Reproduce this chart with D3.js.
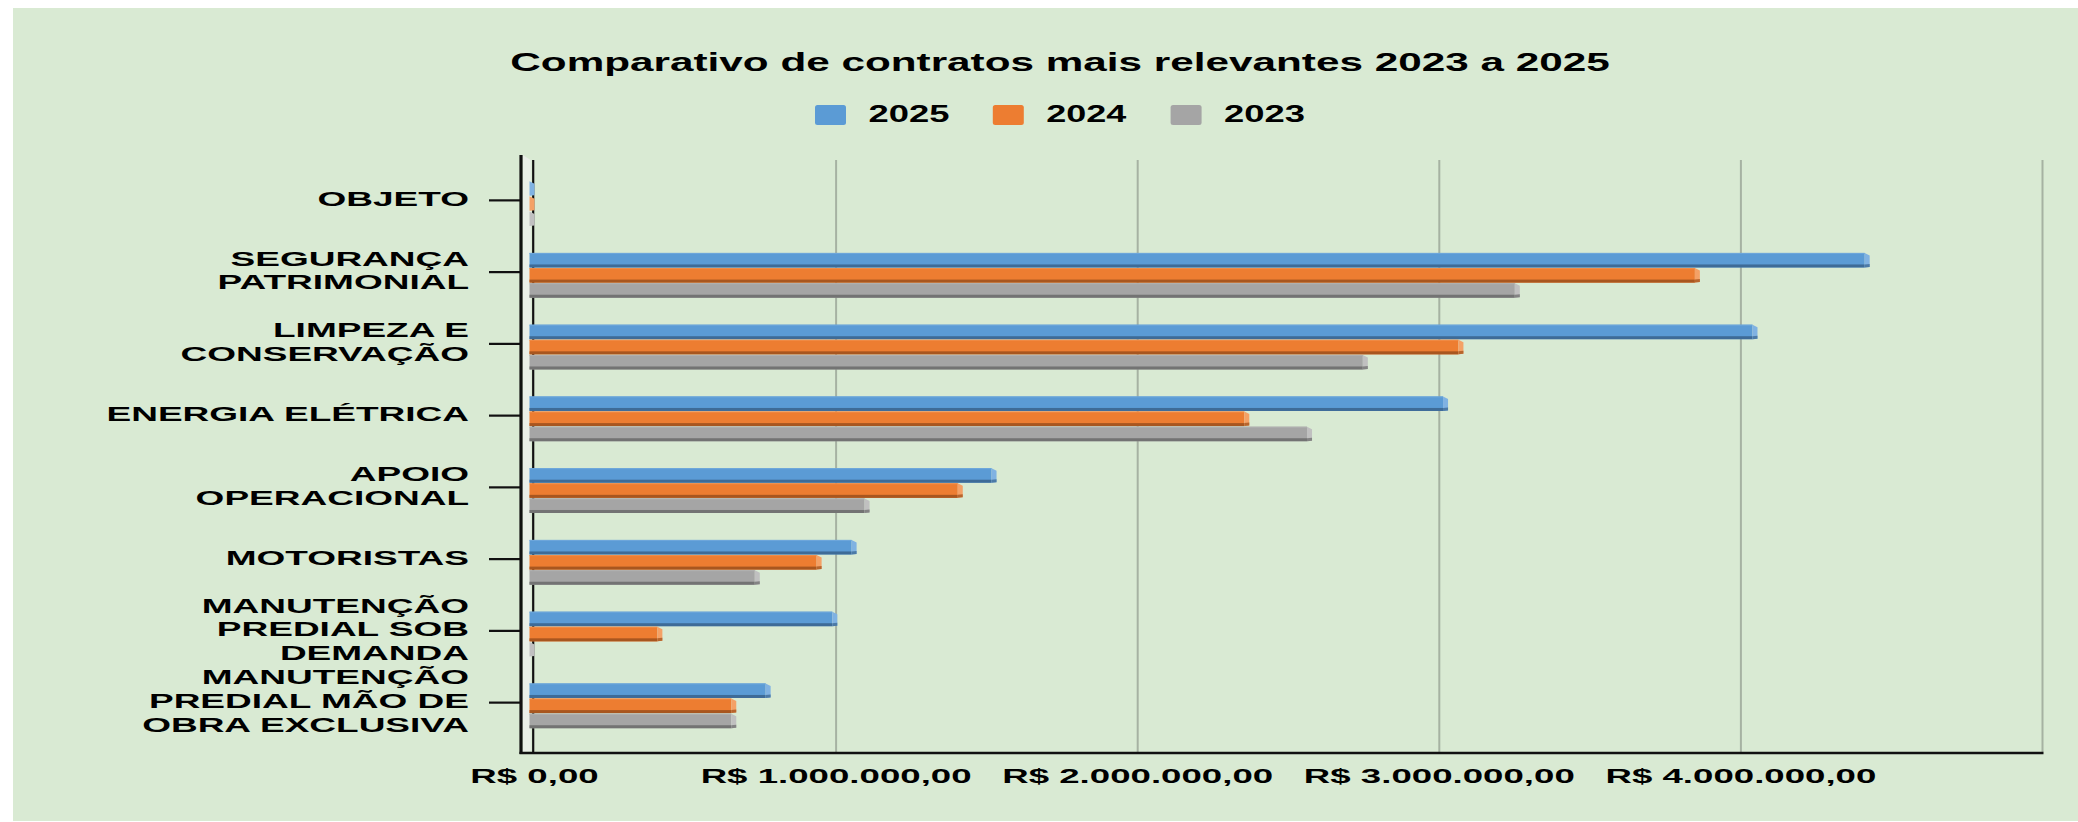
<!DOCTYPE html>
<html>
<head>
<meta charset="utf-8">
<script src="https://cdn.jsdelivr.net/npm/d3@7"></script>
<style>
  html, body { margin: 0; padding: 0; background: #ffffff; }
  svg text { font-family: "Liberation Sans", Arial, sans-serif; font-weight: bold; fill: #000; }
</style>
</head>
<body>
<svg id="chart" width="2078" height="822"></svg>
<script>
// ---------------- DATA ----------------
const chartTitle = "Comparativo de contratos mais relevantes 2023 a 2025";
const categories = ["OBJETO", "SEGURANÇA PATRIMONIAL", "LIMPEZA E CONSERVAÇÃO", "ENERGIA ELÉTRICA",
  "APOIO OPERACIONAL", "MOTORISTAS", "MANUTENÇÃO PREDIAL SOB DEMANDA", "MANUTENÇÃO PREDIAL MÃO DE OBRA EXCLUSIVA"];
const categoryLines = [
  ["OBJETO"],
  ["SEGURANÇA", "PATRIMONIAL"],
  ["LIMPEZA E", "CONSERVAÇÃO"],
  ["ENERGIA ELÉTRICA"],
  ["APOIO", "OPERACIONAL"],
  ["MOTORISTAS"],
  ["MANUTENÇÃO", "PREDIAL SOB", "DEMANDA"],
  ["MANUTENÇÃO", "PREDIAL MÃO DE", "OBRA EXCLUSIVA"]
];
const seriesNames = ["2025", "2024", "2023"];
const values2025 = [0, 4427000, 4055000, 3029000, 1532000, 1068000, 1004000, 783000];
const values2024 = [0, 3864000, 3080000, 2370000, 1420000, 952000, 424000, 669000];
const values2023 = [0, 3267000, 2763000, 2578000, 1111000, 747000, 0, 669000];
const xTickValues = [0, 1000000, 2000000, 3000000, 4000000];
const xGridValues = [1000000, 2000000, 3000000, 4000000, 5000000];

const seriesValues = { "2025": values2025, "2024": values2024, "2023": values2023 };
const palette = {
  "2025": { face: "#5b9bd5", dark: "#3e6b97", cap: "#80b2e2", top: "#6fa8dc" },
  "2024": { face: "#ed7d31", dark: "#a8561f", cap: "#f4a166", top: "#f08d4a" },
  "2023": { face: "#a5a5a5", dark: "#737373", cap: "#c0c0c0", top: "#b0b0b0" }
};

// ---------------- SETUP ----------------
const svg = d3.select("#chart");
const W = 2078, H = 822;

svg.append("rect").attr("x", 13).attr("y", 8).attr("width", W - 13).attr("height", 813).attr("fill", "#d9ead3");

function stretch(sel, targetWidth, anchorX) {
  const w = sel.node().getBBox().width;
  const k = targetWidth / w;
  sel.attr("transform", `translate(${anchorX},0) scale(${k},1) translate(${-anchorX},0)`);
  return k;
}
function stretchK(sel, k, anchorX) {
  sel.attr("transform", `translate(${anchorX},0) scale(${k},1) translate(${-anchorX},0)`);
}

// Title
const title = svg.append("text").attr("x", 1060).attr("y", 71).attr("text-anchor", "middle")
  .style("font-size", "26.5px").text(chartTitle);
stretch(title, 1100, 1060);

// Legend
const legend = svg.append("g");
seriesNames.forEach((s, i) => {
  const x0 = 815 + i * 177.8;
  legend.append("rect").attr("x", x0).attr("y", 105).attr("width", 31).attr("height", 20)
    .attr("rx", 2.5).attr("fill", palette[s].face);
  const t = legend.append("text").attr("x", x0 + 53.5).attr("y", 122.3).style("font-size", "24px").text(s);
  stretch(t, 81, x0 + 53.5);
});

// ---------------- SCALES ----------------
const x = d3.scaleLinear().domain([0, 5000000]).range([534, 2042]);
const y = d3.scaleBand().domain(categories).range([168, 742]).paddingInner(0.367).paddingOuter(0.1835);
const ys = d3.scaleBand().domain(seriesNames).range([0, y.bandwidth()]);

const plotTop = 160, plotBottom = 753;

// gridlines
const grid = svg.append("g").attr("transform", `translate(0,${plotTop})`)
  .call(d3.axisTop(x).tickValues(xGridValues).tickSize(-(plotBottom - 1 - plotTop)).tickFormat(""));
grid.select(".domain").remove();
grid.selectAll(".tick line").attr("stroke", "#a6b2a2").attr("stroke-width", 2);

// 3D side strip and zero wall line
svg.append("polygon")
  .attr("points", `522.7,155 530.7,160 530.7,751 522.7,752`)
  .attr("fill", "#eaefe8");
svg.append("line").attr("x1", x(0) - 0.8).attr("x2", x(0) - 0.8).attr("y1", plotTop).attr("y2", plotBottom - 1)
  .attr("stroke", "#111").attr("stroke-width", 2.2);

// Bars
const shift = 4.5, capW = 5;
const groups = svg.append("g").selectAll("g").data(categories).join("g")
  .attr("transform", d => `translate(0,${y(d)})`);
groups.each(function (cat, ci) {
  const g = d3.select(this);
  seriesNames.forEach(s => {
    const v = seriesValues[s][ci];
    const c = palette[s];
    const y0 = ys(s);
    const h = ys.bandwidth() - 0.6;
    const xs = x(0) - shift;
    const xe = x(v) - shift;
    const w = Math.max(0, xe - xs);
    if (w > 0) {
      g.append("rect").attr("x", xs).attr("y", y0).attr("width", w).attr("height", h).attr("fill", c.face);
      g.append("rect").attr("x", xs).attr("y", y0).attr("width", w).attr("height", 1).attr("fill", c.top);
      g.append("rect").attr("x", xs).attr("y", y0 + h - 3).attr("width", w).attr("height", 3).attr("fill", c.dark);
    }
    g.append("polygon")
      .attr("points", `${xe},${y0} ${xe + capW},${y0 + 2.5} ${xe + capW},${y0 + h - 0.5} ${xe},${y0 + h}`)
      .attr("fill", c.cap);
    if (w > 0) {
      g.append("polygon")
        .attr("points", `${xe},${y0 + h - 3} ${xe + capW},${y0 + h - 3.5} ${xe + capW},${y0 + h - 0.5} ${xe},${y0 + h}`)
        .attr("fill", c.dark).attr("opacity", 0.8);
    }
  });
});

// Axes lines
svg.append("line").attr("x1", 521).attr("x2", 521).attr("y1", 155).attr("y2", plotBottom + 1)
  .attr("stroke", "#111").attr("stroke-width", 3.2);
svg.append("line").attr("x1", 519.5).attr("x2", 2043.5).attr("y1", plotBottom).attr("y2", plotBottom)
  .attr("stroke", "#111").attr("stroke-width", 2.4);

// Category ticks
const yAxis = svg.append("g").attr("transform", `translate(521,-3.5)`)
  .call(d3.axisLeft(y).tickSize(32).tickSizeOuter(0).tickFormat(""));
yAxis.select(".domain").remove();
yAxis.selectAll(".tick line").attr("stroke", "#111").attr("stroke-width", 2.2);

// Category labels
const labelX = 469, lineH = 23.6, labelSize = 20.5;
const labelsG = svg.append("g");
let labelK = null;
// compute uniform stretch from the widest single-line label
const probe = labelsG.append("text").style("font-size", labelSize + "px").text("ENERGIA ELÉTRICA");
labelK = 363 / probe.node().getBBox().width;
probe.remove();
categories.forEach((cat, ci) => {
  const lines = categoryLines[ci];
  const cy = y(cat) + y.bandwidth() / 2 - 3.5 - 2;
  const firstBase = cy - (lines.length - 1) * lineH / 2 + 7.4;
  const t = labelsG.append("text").attr("text-anchor", "end").style("font-size", labelSize + "px");
  lines.forEach((ln, li) => {
    t.append("tspan").attr("x", labelX).attr("y", firstBase + li * lineH).text(ln);
  });
  stretchK(t, labelK, labelX);
});

// X tick labels
const fmtLocale = d3.formatLocale({ decimal: ",", thousands: ".", grouping: [3], currency: ["R$ ", ""] });
const fmt = fmtLocale.format("$,.2f");
const xAxis = svg.append("g").attr("transform", `translate(0,${plotBottom})`)
  .call(d3.axisBottom(x).tickValues(xTickValues).tickSize(0).tickPadding(0).tickFormat(fmt));
xAxis.select(".domain").remove();
xAxis.selectAll(".tick text").attr("y", 30).attr("dy", 0)
  .style("font-size", "21px").style("font-family", '"Liberation Sans", Arial, sans-serif')
  .style("font-weight", "bold").attr("fill", "#000");
const probe2 = svg.append("text").style("font-size", "21px").text(fmt(1000000));
const tickK = 271 / probe2.node().getBBox().width;
probe2.remove();
xAxis.selectAll(".tick text").each(function () {
  stretchK(d3.select(this), tickK, 0);
});
</script>
</body>
</html>
